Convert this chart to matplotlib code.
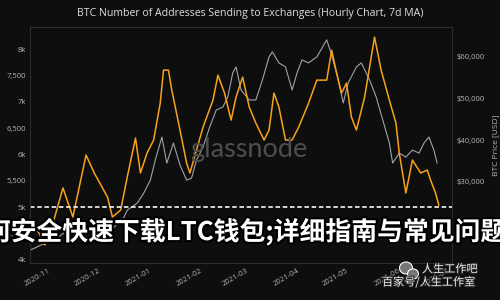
#!/usr/bin/env python3
"""BTC addresses sending to exchanges (7d MA) vs BTC price, dark glassnode style."""
import matplotlib
matplotlib.use("Agg")
import matplotlib.pyplot as plt
import matplotlib.dates as mdates
import matplotlib.patheffects as pe
from matplotlib.patches import Ellipse
from matplotlib.ticker import FuncFormatter
import pandas as pd

# ---- data ----
addr_dates = ["2020-10-21", "2020-10-24", "2020-10-30", "2020-11-05", "2020-11-10",
              "2020-11-16", "2020-11-24", "2020-11-29", "2020-12-07", "2020-12-10",
              "2020-12-15", "2020-12-19", "2020-12-24", "2020-12-27", "2020-12-31",
              "2021-01-04", "2021-01-08", "2021-01-10", "2021-01-13", "2021-01-15",
              "2021-01-20", "2021-01-24", "2021-01-26", "2021-01-30", "2021-02-03",
              "2021-02-09", "2021-02-12", "2021-02-16", "2021-02-20", "2021-02-23",
              "2021-02-27", "2021-03-03", "2021-03-07", "2021-03-12", "2021-03-15",
              "2021-03-18", "2021-03-21", "2021-03-25", "2021-03-29", "2021-04-02",
              "2021-04-08", "2021-04-13", "2021-04-19", "2021-04-22", "2021-04-25",
              "2021-04-28", "2021-05-01", "2021-05-04", "2021-05-07", "2021-05-12",
              "2021-05-16", "2021-05-18", "2021-05-22", "2021-05-27", "2021-05-31",
              "2021-06-02", "2021-06-06", "2021-06-10", "2021-06-15", "2021-06-19",
              "2021-06-21", "2021-06-24", "2021-06-26"]
addr_values = [4720, 4663, 4284, 4815, 5365, 4815, 5990, 5649, 5194, 4815,
               4947, 5573, 6313, 5649, 6028, 6275, 6976, 7602, 7602, 7223,
               6464, 5839, 5649, 6085, 6521, 7033, 7507, 7166, 6654, 7090,
               7469, 6900, 6597, 6275, 6464, 7166, 6900, 6275, 6275, 6521,
               6976, 7412, 7412, 7981, 7545, 7166, 7355, 6711, 6464, 7090,
               7848, 8228, 7602, 7033, 6597, 6028, 5270, 5895, 5649, 5706,
               5516, 5270, 5042]

price_dates = ["2020-10-21", "2020-10-30", "2020-11-08", "2020-11-14", "2020-11-21",
               "2020-12-01", "2020-12-11", "2020-12-17", "2020-12-19", "2020-12-25",
               "2020-12-29", "2021-01-02", "2021-01-05", "2021-01-09", "2021-01-12",
               "2021-01-16", "2021-01-20", "2021-01-24", "2021-01-27", "2021-01-30",
               "2021-02-03", "2021-02-07", "2021-02-11", "2021-02-15", "2021-02-18",
               "2021-02-21", "2021-02-23", "2021-02-26", "2021-03-03", "2021-03-07",
               "2021-03-11", "2021-03-15", "2021-03-17", "2021-03-21", "2021-03-25",
               "2021-03-29", "2021-04-01", "2021-04-04", "2021-04-08", "2021-04-13",
               "2021-04-19", "2021-04-21", "2021-04-25", "2021-04-29", "2021-05-02",
               "2021-05-07", "2021-05-10", "2021-05-15", "2021-05-19", "2021-05-23",
               "2021-05-27", "2021-05-29", "2021-06-02", "2021-06-06", "2021-06-10",
               "2021-06-14", "2021-06-17", "2021-06-20", "2021-06-23", "2021-06-25"]
price_values = [13493, 15180, 16867, 18795, 18313, 19518, 19036, 21446, 23133, 24820,
                27230, 30363, 35183, 40726, 34460, 39280, 33978, 30363, 30845, 35183,
                38316, 43136, 47233, 47956, 50366, 56150, 57596, 52053, 49643, 49643,
                54463, 60006, 61211, 58560, 57596, 52053, 56150, 59283, 58560, 60006,
                64103, 61693, 56150, 48920, 53740, 57596, 58560, 54463, 50366, 44823,
                39280, 34460, 36870, 35906, 37593, 36870, 39280, 40726, 37593, 34460]

left_ticks = [4000, 4500, 5000, 5500, 6000, 6500, 7000, 7500, 8000]
right_ticks = [20000, 30000, 40000, 50000, 60000]
ref_level = 5000

BG = "#0e0e0e"
ORANGE = "#f7a21b"
GREY = "#9ea2ab"
TXT = "#b4b4b4"

plt.rcParams["font.family"] = ["Open Sans", "DejaVu Sans"]

fig = plt.figure(figsize=(5, 3), dpi=100, facecolor=BG)
ax = fig.add_axes([0.06, 0.123, 0.844, 0.787])
ax2 = ax.twinx()
ax.set_zorder(ax2.get_zorder() + 1)
ax.patch.set_visible(False)
ax2.set_facecolor(BG)

ax2.plot(pd.to_datetime(price_dates), price_values, color=GREY, lw=0.8)
ax.plot(pd.to_datetime(addr_dates), addr_values, color=ORANGE, lw=1.1)
ax.axhline(ref_level, color="#e6e6e6", lw=1.3, ls=(0, (2.5, 1.5)))

ax.set_xlim(pd.Timestamp("2020-10-21"), pd.Timestamp("2021-07-04"))
ax.set_ylim(3940, 8420)
ax2.set_ylim(10400, 67200)

ax.set_yticks(left_ticks)
ax.yaxis.set_major_formatter(FuncFormatter(
    lambda v, p: f"{int(v) // 1000}k" if v % 1000 == 0 else f"{int(v):,}"))
ax2.set_yticks(right_ticks)
ax2.yaxis.set_major_formatter(FuncFormatter(lambda v, p: f"${int(v):,}"))
ax.xaxis.set_major_locator(mdates.MonthLocator())
ax.xaxis.set_major_formatter(mdates.DateFormatter("%Y-%m"))

for a in (ax, ax2):
    a.tick_params(colors=TXT, labelsize=5.5, length=0, pad=3)
    for s in a.spines.values():
        s.set_color("#2e2e2e")
        s.set_linewidth(0.6)
for lab in ax.get_xticklabels():
    lab.set_rotation(30)
    lab.set_ha("right")
    lab.set_rotation_mode("anchor")

ax2.set_ylabel("BTC Price [USD]", color=TXT, fontsize=6, labelpad=6)
fig.text(0.5, 0.955, "BTC Number of Addresses Sending to Exchanges (Hourly Chart, 7d MA)",
         ha="center", va="center", color="#dedede", fontsize=7.6)

# glassnode watermark
fig.text(0.498, 0.5, "glassnode", ha="center", va="center", color="#4e4e4e",
         fontsize=19.5, family=["Lato", "DejaVu Sans"], zorder=1)

# overlaid headline text (runs off both edges, as in the source image)
cjk = ["Noto Sans CJK SC", "DejaVu Sans"]
fig.text(-0.082, 1 - 232 / 300, "如何安全快速下载LTC钱包;详细指南与常见问题",
         ha="left", va="center", color="white", fontsize=18.6, weight="bold",
         family=cjk, zorder=10,
         path_effects=[pe.withStroke(linewidth=3, foreground="black")])

# bottom-right account watermark
stroke = [pe.withStroke(linewidth=1.5, foreground="#222")]
fig.text(0.844, 1 - 269 / 300, "人生工作吧", ha="left", va="center", color="#eeeeee",
         fontsize=8, family=cjk, zorder=10, path_effects=stroke)
fig.text(0.764, 1 - 282 / 300, "百家号/人生工作室", ha="left", va="center", color="#eeeeee",
         fontsize=8, family=cjk, zorder=10, path_effects=stroke)
for cx, cy, w, h in ((0.812, 1 - 268 / 300, 0.026, 0.04), (0.826, 1 - 274 / 300, 0.022, 0.034)):
    fig.patches.append(Ellipse((cx, cy), w, h, transform=fig.transFigure,
                               facecolor="#777", edgecolor="white", lw=0.8, zorder=9))

fig.savefig("out.png", dpi=100, facecolor=BG)
